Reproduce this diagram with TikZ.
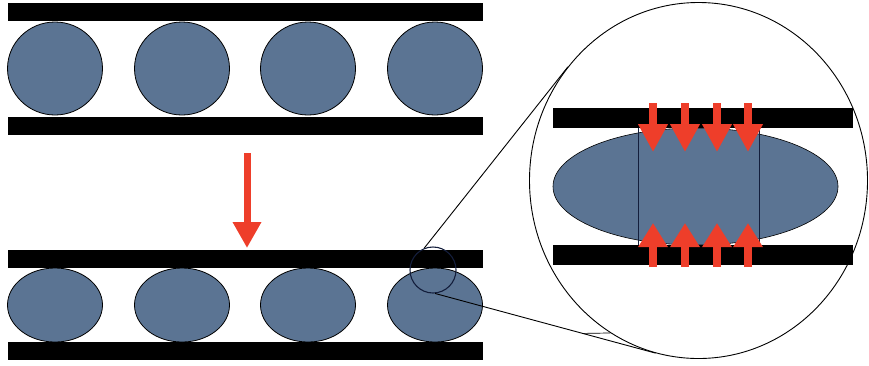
\documentclass[tikz,border=0pt]{standalone}
\usetikzlibrary{shapes.geometric,arrows.meta}
\definecolor{blob}{RGB}{91,116,147}
\definecolor{pushred}{RGB}{238,62,42}
\definecolor{navy}{RGB}{20,30,60}
\begin{document}
\begin{tikzpicture}[x=1pt,y=-1pt,
  plate/.style={fill=black},
  ball/.style={ellipse,draw=black,line width=0.8pt,fill=blob,inner sep=0pt},
  bigpush/.style={draw=pushred,line width=7pt,line cap=butt,-{Triangle[width=27pt,length=26pt]}},
  smallpush/.style={draw=pushred,line width=8pt,line cap=butt,-{Triangle[width=28pt,length=28pt]}},
  zoomline/.style={draw=black,line width=0.9pt}]
\useasboundingbox (0,0) rectangle (869,365);
% ---------- upper panel ----------
\fill[plate] (8,3) rectangle (483,21);
\fill[plate] (8,117) rectangle (483,135);
\foreach \cx [count=\i] in {55,182,308,435}
  \node[ball,minimum width=95pt,minimum height=93pt] (u\i) at (\cx,68.5) {};
% ---------- main arrow ----------
\coordinate (mA) at (247,153);
\coordinate (mB) at (247,248);
\draw[bigpush] (mA) -- (mB);
% ---------- lower panel ----------
\fill[plate] (8,250) rectangle (483,268);
\fill[plate] (8,342) rectangle (483,360);
\foreach \cx [count=\i] in {55,182,308,435}
  \node[ball,minimum width=95pt,minimum height=74pt] (l\i) at (\cx,305) {};
\node[circle,draw=navy,line width=1.1pt,minimum size=46pt,inner sep=0pt] (zoom) at (433,270) {};
% ---------- magnified view ----------
\node[ellipse,draw=black,line width=0.9pt,minimum width=338pt,minimum height=356pt,inner sep=0pt] (lens) at (698.5,180.5) {};
\node[ball,line width=0.6pt,minimum width=285pt,minimum height=117pt] (blobbig) at (695.5,186.5) {};
\draw[navy,line width=0.8pt] (638,128) -- (638,245);
\draw[navy,line width=0.8pt] (759,128) -- (759,245);
\fill[plate] (553,108) rectangle (853,128);
\fill[plate] (553,245) rectangle (853,265);
\foreach \ax [count=\i] in {653,685,717,748}{
  \coordinate (dT\i) at (\ax,103);
  \coordinate (dB\i) at (\ax,152);
  \draw[smallpush] (dT\i) -- (dB\i);
  \coordinate (uB\i) at (\ax,267);
  \coordinate (uT\i) at (\ax,223);
  \draw[smallpush,-{Triangle[width=28pt,length=24pt]}] (uB\i) -- (uT\i);
}
% ---------- zoom lines ----------
\draw[zoomline] (zoom.112) -- (lens.139);
\draw[zoomline] (zoom.275) -- (lens.256) coordinate[pos=0.67] (kink);
\draw[zoomline,line width=0.7pt] (kink) -- (lens.240);
\end{tikzpicture}
\end{document}
